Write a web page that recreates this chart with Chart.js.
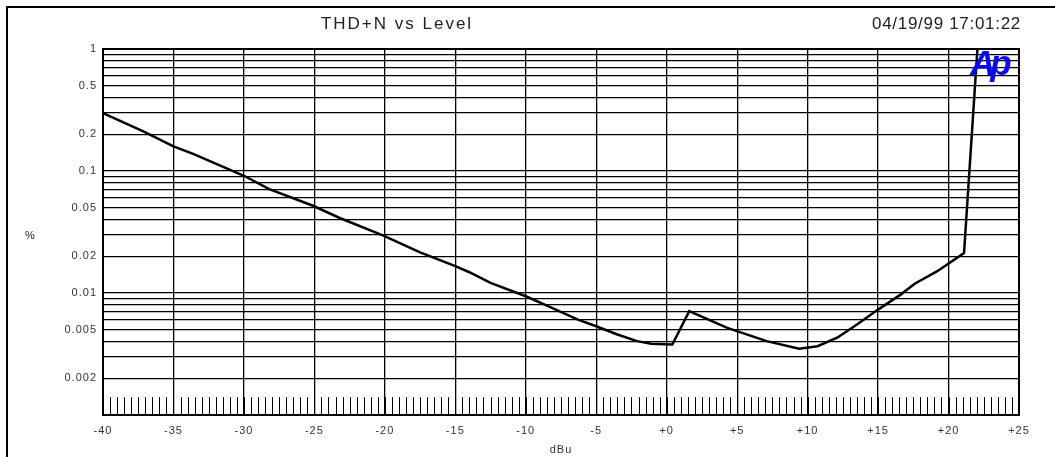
<!DOCTYPE html>
<html>
<head>
<meta charset="utf-8">
<title>THD+N vs Level</title>
<script src="https://cdn.jsdelivr.net/npm/chart.js@4.4.0/dist/chart.umd.min.js"></script>
<style>
  html, body { margin: 0; padding: 0; background: #fff; }
  #wrap { position: relative; width: 1055px; height: 457px; overflow: hidden; }
  #frame { position: absolute; left: 6px; top: 6px; width: 1100px; height: 500px;
           border-left: 2px solid #000; border-top: 2px solid #000; }
  canvas { position: absolute; left: 0; top: 0; }
  .txt { position: absolute; font-family: "Liberation Sans", Arial, sans-serif; color: #222; white-space: nowrap; }
  #title { left: 397px; top: 15px; transform: translateX(-50%); font-size: 17px; line-height: 18px; letter-spacing: 2px; }
  #stamp { right: 34px; top: 15px; font-size: 17px; line-height: 18px; letter-spacing: 0.7px; }
  #unit { left: 25px; top: 229px; font-size: 11px; line-height: 12px; }
  #logo { left: 970px; top: 44px; font-size: 35px; line-height: 38px; font-weight: bold; font-style: italic;
          color: #0a0ae6; letter-spacing: -5px; }
</style>
</head>
<body>
<div id="wrap">
  <div id="frame"></div>
  <canvas id="grafico" width="1055" height="457"></canvas>
  <div class="txt" id="title">THD+N vs Level</div>
  <div class="txt" id="stamp">04/19/99 17:01:22</div>
  <div class="txt" id="unit">%</div>
  <div class="txt" id="logo">Ap</div>
</div>
<script>
// Dados da curva (nivel em dBu, THD+N em %)
const levelDbu = [-40, -37.1, -35, -33.6, -30, -28.2, -25.1, -23.2, -20.1, -17.5, -15, -14, -12.5, -10,
  -8.3, -6.3, -5, -3.5, -2.1, -1.1, 0.4, 1.6, 4.3, 7.1, 9.4, 10.7, 12.1, 13.5, 15, 16.6, 17.6, 19.2, 21.1, 22.05];
const thdnPercent = [0.298, 0.21, 0.159, 0.138, 0.0914, 0.071, 0.0519, 0.0412, 0.0295, 0.0215, 0.0166, 0.0148, 0.0121, 0.0094,
  0.0077, 0.00605, 0.00534, 0.00457, 0.00403, 0.00383, 0.00378, 0.0071, 0.00518, 0.00403, 0.00349, 0.00366, 0.0043, 0.00551, 0.00731, 0.0097, 0.0119, 0.0151, 0.0213, 1.0];

// Eixos
const xTickValues = [-40, -35, -30, -25, -20, -15, -10, -5, 0, 5, 10, 15, 20, 25];
const xTickLabels = ['-40', '-35', '-30', '-25', '-20', '-15', '-10', '-5', '+0', '+5', '+10', '+15', '+20', '+25'];
const yGridValues = [0.002, 0.003, 0.004, 0.005, 0.006, 0.007, 0.008, 0.009,
  0.01, 0.02, 0.03, 0.04, 0.05, 0.06, 0.07, 0.08, 0.09,
  0.1, 0.2, 0.3, 0.4, 0.5, 0.6, 0.7, 0.8, 0.9, 1];
const yLabelValues = [0.002, 0.005, 0.01, 0.02, 0.05, 0.1, 0.2, 0.5, 1];
const yTickLabels = ['0.002', '0.005', '0.01', '0.02', '0.05', '0.1', '0.2', '0.5', '1'];

const fonte = "'Liberation Sans', Arial, sans-serif";

// moldura da area do grafico + tracinhos de 0,5 dB embaixo
const molduraPlugin = {
  id: 'moldura',
  beforeLayout(chart) { chart.ctx.letterSpacing = '1px'; },
  beforeDraw(chart) { chart.ctx.letterSpacing = '1px'; },
  beforeDatasetsDraw(chart) {
    const { ctx, chartArea: a, scales: { x, y } } = chart;
    const topo = y.getPixelForValue(0.0014);
    ctx.save();
    ctx.strokeStyle = '#000';
    ctx.lineWidth = 1;
    ctx.beginPath();
    for (let v = -40; v <= 25; v += 0.5) {
      const px = Math.round(x.getPixelForValue(v)) + 0.5;
      ctx.moveTo(px, topo);
      ctx.lineTo(px, a.bottom);
    }
    ctx.stroke();
    ctx.lineWidth = 2;
    ctx.strokeRect(a.left, a.top, a.right - a.left, a.bottom - a.top);
    ctx.restore();
  }
};

const grafico = new Chart(document.getElementById('grafico').getContext('2d'), {
  type: 'line',
  data: {
    datasets: [{
      label: 'THD+N',
      data: levelDbu.map((v, i) => ({ x: v, y: thdnPercent[i] })),
      borderColor: '#000',
      borderWidth: 2.5,
      pointRadius: 0,
      tension: 0
    }]
  },
  options: {
    responsive: false,
    animation: false,
    layout: { padding: { top: 49, right: 36, left: 0, bottom: 0 } },
    plugins: { legend: { display: false }, title: { display: false }, tooltip: { enabled: false } },
    scales: {
      x: {
        type: 'linear',
        min: -40,
        max: 25,
        afterBuildTicks: s => { s.ticks = xTickValues.map(v => ({ value: v })); },
        afterFit: s => { s.height = 42; },
        grid: { color: '#000', lineWidth: 1.3, drawTicks: false },
        border: { display: false },
        ticks: {
          padding: 9,
          maxRotation: 0,
          autoSkip: false,
          color: '#333',
          font: { family: fonte, size: 11 },
          callback: v => xTickLabels[xTickValues.indexOf(v)]
        },
        title: { display: true, text: 'dBu', color: '#333', font: { family: fonte, size: 11 }, padding: { top: 4, bottom: 0 } }
      },
      y: {
        type: 'logarithmic',
        min: 0.001,
        max: 1,
        afterBuildTicks: s => { s.ticks = yGridValues.map(v => ({ value: v })); },
        afterFit: s => { s.width = 103; },
        grid: { color: '#000', lineWidth: 1.3, drawTicks: false },
        border: { display: false },
        ticks: {
          padding: 6,
          autoSkip: false,
          color: '#333',
          font: { family: fonte, size: 11 },
          callback: v => {
            const i = yLabelValues.indexOf(v);
            return i < 0 ? '' : yTickLabels[i];
          }
        }
      }
    }
  },
  plugins: [molduraPlugin]
});
</script>
</body>
</html>
